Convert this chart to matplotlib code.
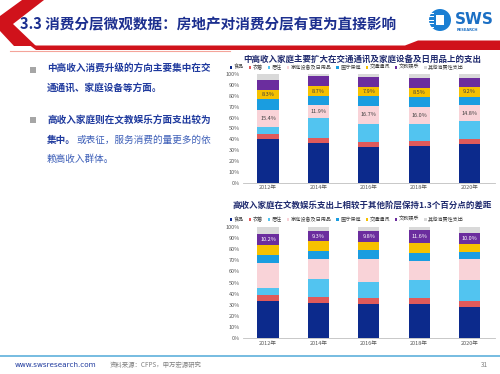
import matplotlib
matplotlib.use("Agg")
import numpy as np
import matplotlib.pyplot as plt
from matplotlib.patches import Polygon, Rectangle, Circle

plt.rcParams['font.family'] = ['Noto Sans CJK SC', 'DejaVu Sans']
plt.rcParams['axes.unicode_minus'] = False

# === data ===
years = ["2012年", "2014年", "2016年", "2018年", "2020年"]
cats = ["食品", "衣着", "居住", "家庭设备及日用品", "医疗保健", "交通通讯", "文教娱乐", "其他消费性支出"]
colors = ["#0c2a8c", "#e05a5a", "#52c4f0", "#f9d3d8", "#1a9de0", "#f6c100", "#6b2d9e", "#d9d9d9"]

# 中高收入家庭 (%)
mid_food = [40.0, 36.3, 32.6, 34.0, 35.4]
mid_cloth = [5.0, 4.6, 5.2, 4.7, 4.6]
mid_house = [6.6, 18.4, 16.2, 15.3, 16.5]
mid_equip = [15.4, 11.9, 16.7, 16.0, 14.8]
mid_med = [10.0, 8.8, 9.5, 9.0, 7.7]
mid_trans = [8.3, 8.7, 7.9, 8.5, 9.2]
mid_edu = [9.5, 9.3, 9.5, 8.9, 8.2]
mid_other = [5.2, 2.0, 2.4, 3.6, 3.6]

# 高收入家庭 (%)
hi_food = [33.5, 32.0, 30.5, 30.5, 28.4]
hi_cloth = [5.4, 5.3, 5.4, 5.4, 5.4]
hi_house = [6.0, 15.9, 14.4, 16.4, 18.5]
hi_equip = [22.4, 18.0, 20.6, 17.1, 18.9]
hi_med = [7.5, 7.2, 8.1, 7.4, 6.6]
hi_trans = [9.0, 8.5, 7.7, 8.4, 6.5]
hi_edu = [10.2, 9.3, 9.8, 11.6, 10.0]
hi_other = [6.0, 3.8, 3.5, 3.2, 5.7]

mid_series = [mid_food, mid_cloth, mid_house, mid_equip, mid_med, mid_trans, mid_edu, mid_other]
hi_series = [hi_food, hi_cloth, hi_house, hi_equip, hi_med, hi_trans, hi_edu, hi_other]

title_main = "3.3 消费分层微观数据：房地产对消费分层有更为直接影响"
title1 = "中高收入家庭主要扩大在交通通讯及家庭设备及日用品上的支出"
title2 = "高收入家庭在文教娱乐支出上相较于其他阶层保持1.3个百分点的差距"

fig = plt.figure(figsize=(5.0, 3.74), dpi=100)
fig.patch.set_facecolor("white")

# === 背景 / 版面 ===
bg = fig.add_axes([0, 0, 1, 1])
bg.set_xlim(0, 500)
bg.set_ylim(374, 0)
bg.axis("off")

red = "#d0121b"
bg.add_patch(Polygon([(22, 0), (44, 0), (13, 24), (36, 46), (14, 46), (0, 31), (0, 16)],
                     closed=True, color=red, lw=0))
bg.add_patch(Polygon([(30, 45.5), (405, 45.5), (418, 40.5), (500, 40.5), (500, 50), (36, 50)],
                     closed=True, color=red, lw=0))
bg.plot([10, 230], [51, 51], color="#f4a49a", lw=0.8)
bg.text(20, 24, title_main, fontsize=10.5, fontweight="bold", color="#1c2f8f", va="center")

# logo
bg.add_patch(Circle((440, 20), 11, color="#1b7fd3", lw=0))
for yy in [12.5, 16, 19.5, 23, 26.5]:
    bg.add_patch(Rectangle((428, yy), 6, 1.3, color="white", lw=0))
bg.add_patch(Rectangle((436, 15), 8, 10, color="white", lw=0))
bg.text(455, 19, "SWS", fontsize=11, fontweight="bold", color="#1b6fc4", va="center",
        family=["DejaVu Sans"])
bg.text(457, 29.5, "RESEARCH", fontsize=2.6, fontweight="bold", color="#1b6fc4", va="center",
        family=["DejaVu Sans"])

# bullets
bold_c = "#1f3a9e"
norm_c = "#3d5fb8"
for yy in [70, 120]:
    bg.add_patch(Rectangle((30, yy - 3), 5.5, 5.5, color="#a6a6a6", lw=0))
fs = 6.9
bg.text(47, 68, "中高收入消费升级的方向主要集中在交", fontsize=fs, fontweight="bold", color=bold_c, va="center")
bg.text(47, 88, "通通讯、家庭设备等方面。", fontsize=fs, fontweight="bold", color=bold_c, va="center")
bg.text(47, 120, "高收入家庭则在文教娱乐方面支出较为", fontsize=fs, fontweight="bold", color=bold_c, va="center")
bg.text(47, 140, "集中。", fontsize=fs, fontweight="bold", color=bold_c, va="center")
bg.text(76, 140, "或表征，服务消费的量更多的依", fontsize=fs, color=norm_c, va="center")
bg.text(47, 159, "赖高收入群体。", fontsize=fs, color=norm_c, va="center")

# footer
bg.plot([0, 500], [356, 356], color="#5fb0dc", lw=1.2)
bg.text(15, 365, "www.swsresearch.com", fontsize=5.2, color="#1f3a9e", va="center",
        family=["DejaVu Sans"])
bg.text(110, 365, "资料来源：CFPS，申万宏源研究", fontsize=4.6, color="#7f7f7f", va="center")
bg.text(481, 365, "31", fontsize=4.6, color="#7f7f7f", va="center")


def stacked(ax, series, label_idx, label_vals, label_color):
    x = np.arange(len(years))
    bottom = np.zeros(len(years))
    for i, vals in enumerate(series):
        v = np.array(vals) / 100
        ax.bar(x, v, 0.42, bottom=bottom, color=colors[i], label=cats[i], lw=0)
        if i == label_idx:
            for xi, b, h, lab in zip(x, bottom, v, label_vals):
                ax.text(xi, b + h / 2, f"{lab:.1f}%", ha="center", va="center",
                        fontsize=4, color=label_color)
        bottom += v
    ax.set_xlim(-0.5, len(years) - 0.5)
    ax.set_ylim(0, 1)
    ax.set_yticks(np.arange(0, 1.01, 0.1))
    ax.set_yticklabels([f"{int(t)}%" for t in range(0, 101, 10)])
    ax.set_xticks(x)
    ax.set_xticklabels(years)
    ax.tick_params(length=0, labelsize=4, colors="#595959", pad=2)
    for s in ["top", "right", "left"]:
        ax.spines[s].set_visible(False)
    ax.spines["bottom"].set_color("#bfbfbf")
    ax.spines["bottom"].set_linewidth(0.6)
    ax.patch.set_alpha(0)


def legend_row(ax, y):
    h, l = ax.get_legend_handles_labels()
    ax.legend(h, l, ncol=8, loc="lower left", bbox_to_anchor=(-0.06, y), frameon=False,
              fontsize=3.7, handlelength=0.5, handleheight=0.5, handletextpad=0.3,
              columnspacing=0.9, borderaxespad=0, labelcolor="#404040")


ax1 = fig.add_axes([0.4856, 0.5115, 0.504, 0.2904])
stacked(ax1, mid_series, 3, mid_equip, "#404040")
for xi, b, h, lab in zip(range(5), np.sum([mid_food, mid_cloth, mid_house, mid_equip, mid_med], axis=0),
                         mid_trans, mid_trans):
    ax1.text(xi, (b + h / 2) / 100, f"{lab:.1f}%", ha="center", va="center", fontsize=4, color="#404040")
legend_row(ax1, 1.02)
fig.text(0.724, 0.842, title1, fontsize=6.1, fontweight="bold", color="#1f2a6e", ha="center", va="center")

ax2 = fig.add_axes([0.4856, 0.0955, 0.504, 0.2979])
stacked(ax2, hi_series, 6, hi_edu, "white")
legend_row(ax2, 1.025)
fig.text(0.724, 0.452, title2, fontsize=6.1, fontweight="bold", color="#1f2a6e", ha="center", va="center")

fig.savefig("out.png", dpi=100)
